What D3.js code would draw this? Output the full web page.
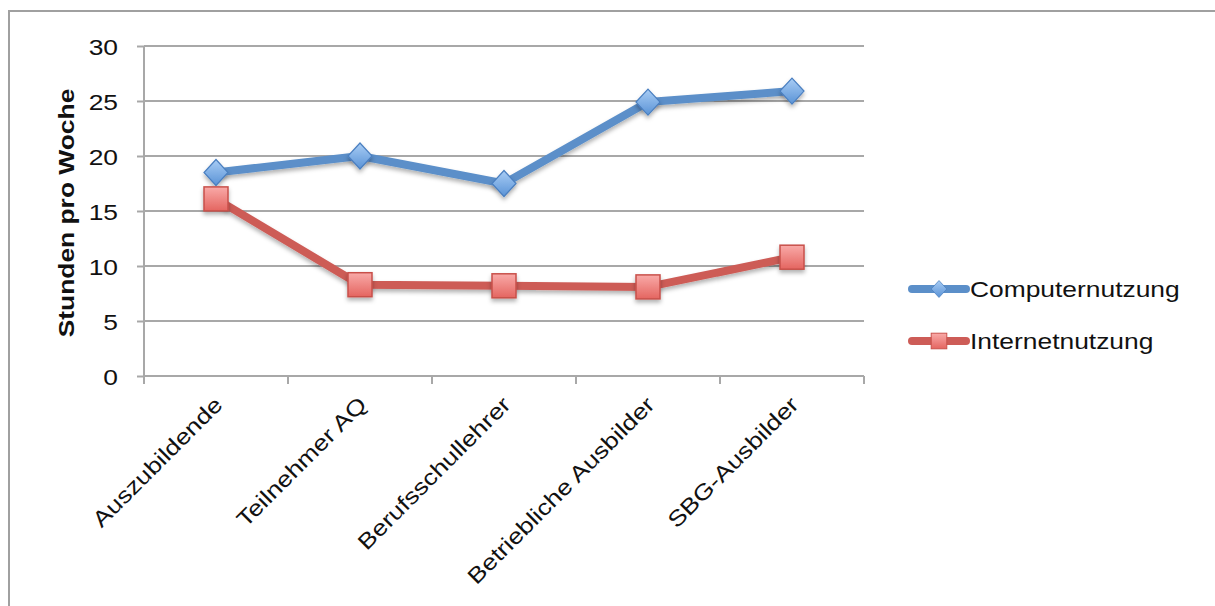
<!DOCTYPE html>
<html>
<head>
<meta charset="utf-8">
<script src="https://cdn.jsdelivr.net/npm/d3@7"></script>
<style>
  html, body { margin: 0; padding: 0; background: #fff; }
  svg { display: block; font-family: "Liberation Sans", Arial, sans-serif; }
</style>
</head>
<body>
<svg id="chart" width="1215" height="606"></svg>
<script>
// Weekly hours of computer and internet use by group
const categories = ["Auszubildende", "Teilnehmer AQ", "Berufsschullehrer", "Betriebliche Ausbilder", "SBG-Ausbilder"];
const computerValues = [18.5, 20.0, 17.5, 24.9, 25.9];
const internetValues = [16.1, 8.3, 8.2, 8.1, 10.8];
const seriesNames = ["Computernutzung", "Internetnutzung"];
const yTicks = [0, 5, 10, 15, 20, 25, 30];
const yTitle = "Stunden pro Woche";

const svg = d3.select("#chart");
const margin = { left: 144, right: 351, top: 46, bottom: 230 };
const W = 1215, H = 606;
const x0 = margin.left, x1 = W - margin.right;
const y0 = H - margin.bottom, y1 = margin.top;
const FS = 22;        // label font size
const WIDEN = 1.2;    // horizontal stretch of the wide label face

const x = d3.scaleBand().domain(categories).range([x0, x1]).padding(0);
const y = d3.scaleLinear().domain([0, 30]).range([y0, y1]);

const gridColor = "#a8a8a8";
const blue = "#5b8fc9";
const red = "#cd5c57";

// outer frame
svg.append("rect")
  .attr("x", 9).attr("y", 11).attr("width", 1240).attr("height", 640)
  .attr("fill", "none").attr("stroke", "#a0a0a0").attr("stroke-width", 2);

const defs = svg.append("defs");
const shadow = defs.append("filter").attr("id", "shadow")
  .attr("x", "-30%").attr("y", "-30%").attr("width", "160%").attr("height", "180%");
shadow.append("feDropShadow").attr("dx", 0).attr("dy", 3).attr("stdDeviation", 2)
  .attr("flood-color", "#000").attr("flood-opacity", 0.3);

const gBlue = defs.append("linearGradient").attr("id", "gBlue").attr("x1", 0).attr("y1", 0).attr("x2", 0).attr("y2", 1);
gBlue.append("stop").attr("offset", "0%").attr("stop-color", "#a9cdf5");
gBlue.append("stop").attr("offset", "100%").attr("stop-color", "#5a93d6");
const gRed = defs.append("linearGradient").attr("id", "gRed").attr("x1", 0).attr("y1", 0).attr("x2", 0).attr("y2", 1);
gRed.append("stop").attr("offset", "0%").attr("stop-color", "#f9aaa8");
gRed.append("stop").attr("offset", "100%").attr("stop-color", "#e46560");

// horizontal gridlines
svg.append("g").selectAll("line").data(yTicks.filter(d => d > 0)).join("line")
  .attr("x1", x0).attr("x2", x1)
  .attr("y1", d => y(d)).attr("y2", d => y(d))
  .attr("stroke", gridColor).attr("stroke-width", 2);

// y axis
const yAxis = svg.append("g").attr("transform", `translate(${x0},0)`)
  .call(d3.axisLeft(y).tickValues(yTicks).tickSize(7).tickPadding(19));
yAxis.select(".domain").attr("stroke", gridColor).attr("stroke-width", 2)
  .attr("d", `M0,${y1}V${y0}`);
yAxis.selectAll(".tick line").attr("stroke", gridColor).attr("stroke-width", 2);
yAxis.selectAll(".tick text")
  .attr("x", null).attr("dy", null)
  .attr("transform", `translate(-26,8) scale(${WIDEN},1)`)
  .attr("font-size", FS).attr("fill", "#111")
  .attr("font-family", "Liberation Sans, Arial, sans-serif");

// x axis with ticks at category boundaries
const xAxis = svg.append("g").attr("transform", `translate(0,${y0})`);
xAxis.append("line").attr("x1", x0).attr("x2", x1).attr("y1", 0).attr("y2", 0)
  .attr("stroke", gridColor).attr("stroke-width", 2);
const bounds = categories.map(c => x(c)).concat([x1]);
xAxis.selectAll("line.t").data(bounds).join("line").attr("class", "t")
  .attr("x1", d => d).attr("x2", d => d).attr("y1", 0).attr("y2", 8)
  .attr("stroke", gridColor).attr("stroke-width", 2);
xAxis.selectAll("text").data(categories).join("text")
  .attr("transform", d => `translate(${x(d) + x.bandwidth() / 2 + 8},${30}) rotate(-45) scale(${WIDEN},1)`)
  .attr("text-anchor", "end")
  .attr("font-size", FS).attr("fill", "#111")
  .text(d => d);

// y axis title
svg.append("text")
  .attr("transform", `translate(74,${(y0 + y1) / 2 + 2}) rotate(-90) scale(${WIDEN},1)`)
  .attr("text-anchor", "middle")
  .attr("font-size", FS).attr("font-weight", "bold").attr("fill", "#111")
  .text(yTitle);

const cx = d => x(d) + x.bandwidth() / 2;
const line = d3.line().x(d => cx(d.c)).y(d => y(d.v));
const series = [
  { name: seriesNames[0], values: computerValues, color: blue, fill: "url(#gBlue)", stroke: "#4a7fc0", shape: "diamond" },
  { name: seriesNames[1], values: internetValues, color: red, fill: "url(#gRed)", stroke: "#c8504a", shape: "square" }
];

function marker(g, shape, fill, stroke) {
  if (shape === "diamond") {
    g.append("path").attr("d", "M0,-13L12,0L0,13L-12,0Z")
      .attr("fill", fill).attr("stroke", stroke).attr("stroke-width", 1.2);
  } else {
    g.append("rect").attr("x", -12).attr("y", -12).attr("width", 24).attr("height", 24)
      .attr("fill", fill).attr("stroke", stroke).attr("stroke-width", 1.5);
  }
}

series.forEach(s => {
  const pts = categories.map((c, i) => ({ c, v: s.values[i] }));
  svg.append("path").datum(pts)
    .attr("d", line).attr("fill", "none")
    .attr("stroke", s.color).attr("stroke-width", 8)
    .attr("stroke-linejoin", "round").attr("stroke-linecap", "round")
    .attr("filter", "url(#shadow)");
  const mg = svg.append("g").attr("filter", "url(#shadow)");
  pts.forEach(p => {
    const g = mg.append("g").attr("transform", `translate(${cx(p.c)},${y(p.v)})`);
    marker(g, s.shape, s.fill, s.stroke);
  });
});

// legend
const legend = svg.append("g");
series.forEach((s, i) => {
  const ly = 289 + i * 52;
  const g = legend.append("g").attr("transform", `translate(0,${ly})`);
  g.append("line").attr("x1", 912).attr("x2", 966).attr("y1", 0).attr("y2", 0)
    .attr("stroke", s.color).attr("stroke-width", 8).attr("stroke-linecap", "round");
  const m = g.append("g").attr("transform", "translate(939,0) scale(0.65)");
  marker(m, s.shape, s.fill, s.stroke);
  g.append("text").attr("transform", `translate(970,8) scale(${WIDEN},1)`)
    .attr("font-size", FS).attr("fill", "#111").text(s.name);
});
</script>
</body>
</html>
